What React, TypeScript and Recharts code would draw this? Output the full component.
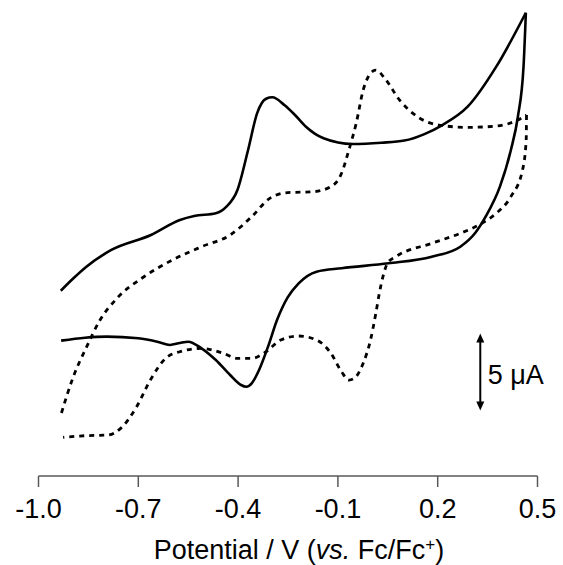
import { LineChart, Line, XAxis, YAxis, ReferenceLine } from 'recharts';

// potential (V vs Fc/Fc+) and current (uA)
const solidFwdV = [-0.933, -0.895, -0.856, -0.781, -0.662, -0.575, -0.532, -0.467, -0.435, -0.402, -0.370, -0.343, -0.316, -0.297, -0.261, -0.229, -0.196, -0.143, -0.056, 0.031, 0.100, 0.160, 0.214, 0.290, 0.376, 0.465];
const solidFwdI = [-7.97, -7.16, -6.41, -5.32, -4.35, -3.38, -3.12, -2.94, -2.51, -1.43, 1.17, 3.55, 4.50, 4.59, 4.09, 3.44, 2.68, 1.93, 1.56, 1.64, 1.78, 2.20, 2.79, 3.98, 6.58, 10.08];

const solidRevV = [0.465, 0.458, 0.441, 0.420, 0.387, 0.344, 0.312, 0.268, 0.182, 0.052, -0.089, -0.164, -0.218, -0.251, -0.283, -0.310, -0.337, -0.359, -0.375, -0.391, -0.424, -0.467, -0.510, -0.550, -0.575, -0.605, -0.640, -0.700, -0.795, -0.860, -0.932];
const solidRevI = [10.08, 6.58, 3.33, 1.17, -1.21, -3.16, -4.24, -5.11, -5.76, -6.19, -6.51, -6.73, -7.49, -8.40, -9.87, -11.60, -13.12, -13.98, -14.20, -14.09, -13.44, -12.47, -11.71, -11.28, -11.36, -11.49, -11.30, -11.06, -10.95, -11.02, -11.21];

const dashFwdV = [-0.931, -0.897, -0.855, -0.815, -0.764, -0.683, -0.597, -0.510, -0.424, -0.359, -0.305, -0.251, -0.175, -0.121, -0.089, -0.067, -0.045, -0.024, -0.002, 0.014, 0.041, 0.085, 0.139, 0.203, 0.290, 0.376, 0.441, 0.467];
const dashFwdI = [-15.91, -13.65, -11.60, -9.87, -8.46, -7.06, -5.97, -5.11, -4.35, -3.16, -1.97, -1.60, -1.54, -1.21, -0.34, 1.17, 2.90, 5.06, 6.15, 6.36, 5.82, 4.42, 3.33, 2.79, 2.64, 2.72, 3.12, 3.44];

const dashRevV = [0.467, 0.466, 0.455, 0.420, 0.376, 0.333, 0.268, 0.182, 0.074, 0.050, 0.036, 0.024, 0.014, -0.002, -0.024, -0.051, -0.067, -0.089, -0.121, -0.164, -0.218, -0.272, -0.316, -0.359, -0.402, -0.445, -0.510, -0.575, -0.618, -0.662, -0.705, -0.748, -0.791, -0.856, -0.926];
const dashRevI = [3.44, 1.82, -0.13, -1.86, -2.94, -3.59, -4.24, -4.89, -5.76, -6.15, -7.00, -8.20, -9.44, -11.17, -12.68, -13.66, -13.77, -13.23, -12.03, -11.17, -10.91, -11.17, -11.93, -12.36, -12.36, -12.03, -11.71, -11.93, -12.36, -13.70, -15.50, -16.80, -17.34, -17.38, -17.49];

const xTicks = [-1.0, -0.7, -0.4, -0.1, 0.2, 0.5];
const scaleBarV = 0.328;
const scaleBarI = [-15.75, -10.75];

const zip = (v: number[], i: number[]) => v.map((x, k) => ({ v: x, i: i[k] }));
const solidFwd = zip(solidFwdV, solidFwdI);
const solidRev = zip(solidRevV, solidRevI);
const dashFwd = zip(dashFwdV, dashFwdI);
const dashRev = zip(dashRevV, dashRevI);

const FONT = '"Liberation Sans", Arial, sans-serif';

function AxisTitle(props: any) {
  const { x, y, width } = props.viewBox;
  return (
    <text x={x + width / 2 + 11} y={y + 83} textAnchor="middle" fontSize={27} fontFamily={FONT} fill="#000">
      Potential / V (<tspan fontStyle="italic">vs.</tspan> Fc/Fc<tspan dy={-9} fontSize={17}>+</tspan><tspan dy={9}>)</tspan>
    </text>
  );
}

function ScaleBar(p: any) {
  const x = p.x1;
  const top = Math.min(p.y1, p.y2);
  const bot = Math.max(p.y1, p.y2);
  return (
    <g>
      <line x1={x} y1={top + 5} x2={x} y2={bot - 5} stroke="#000" strokeWidth={2} />
      <path d={`M${x},${top} L${x - 4},${top + 9} L${x + 4},${top + 9} Z`} fill="#000" />
      <path d={`M${x},${bot} L${x - 4},${bot - 9} L${x + 4},${bot - 9} Z`} fill="#000" />
      <text x={x + 7.5} y={(top + bot) / 2 + 3} dominantBaseline="central" fontSize={27} fontFamily={FONT} fill="#000">
        5 μA
      </text>
    </g>
  );
}

const lineProps = { dataKey: 'i', type: 'monotone' as const, stroke: '#000', dot: false, isAnimationActive: false };

export default function App() {
  return (
    <div style={{ position: 'fixed', left: 0, top: 0, width: 563, height: 565, background: '#fff' }}>
      <LineChart width={563} height={565} margin={{ top: 6.3, right: 25.5, bottom: 0, left: 38.5 }}>
        <XAxis
          type="number"
          dataKey="v"
          domain={[-1, 0.5]}
          ticks={xTicks}
          interval={0}
          tickFormatter={(t: number) => t.toFixed(1)}
          stroke="#595959"
          strokeWidth={1.5}
          tick={{ fill: '#000', fontSize: 27, fontFamily: FONT }}
          tickSize={11}
          tickMargin={12}
          height={89}
          label={AxisTitle}
        />
        <YAxis type="number" dataKey="i" domain={[-20, 10.5]} hide />
        <Line data={solidFwd} {...lineProps} strokeWidth={2.6} />
        <Line data={solidRev} {...lineProps} strokeWidth={2.6} />
        <Line data={dashFwd} {...lineProps} strokeWidth={2.8} strokeDasharray="5 5" />
        <Line data={dashRev} {...lineProps} strokeWidth={2.8} strokeDasharray="5 5" />
        <ReferenceLine
          segment={[{ x: scaleBarV, y: scaleBarI[0] }, { x: scaleBarV, y: scaleBarI[1] }]}
          shape={ScaleBar}
        />
      </LineChart>
    </div>
  );
}
